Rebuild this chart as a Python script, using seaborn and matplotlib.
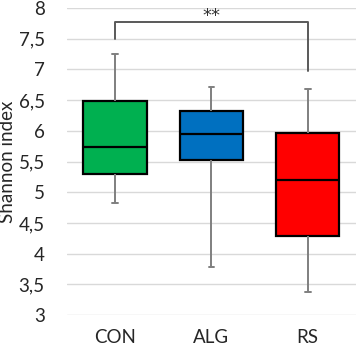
import numpy as np
import pandas as pd
import matplotlib
matplotlib.use('Agg')
import matplotlib.pyplot as plt
import seaborn as sns

# Group summary: whisker low, Q1, median, Q3, whisker high
groups = ['CON', 'ALG', 'RS']
whisker_low = [4.82, 3.79, 3.38]
q1 = [5.30, 5.53, 4.29]
median = [5.73, 5.95, 5.20]
q3 = [6.48, 6.33, 5.96]
whisker_high = [7.25, 6.71, 6.68]
colors = ['#00B050', '#0070C0', '#FF0000']

# significance bracket between CON and RS
sig_text = '**'
sig_left_y = 7.49
sig_right_y = 6.98
sig_top_y = 7.77

# five points per group reproduce the stats exactly (n=5 -> quartiles at points)
rows = []
for i, g in enumerate(groups):
    for v in [whisker_low[i], q1[i], median[i], q3[i], whisker_high[i]]:
        rows.append({'group': g, 'value': v})
df = pd.DataFrame(rows)

sns.set_style('white')
plt.rcParams['font.family'] = ['Lato', 'DejaVu Sans']

fig = plt.figure(figsize=(3.58, 3.49), dpi=100)
ax = fig.add_axes([0.187, 0.0974, 0.807, 0.8796])

sns.boxplot(data=df, x='group', y='value', hue='group', palette=colors,
            order=groups, whis=np.inf, width=0.66, legend=False, ax=ax,
            saturation=1,
            boxprops=dict(edgecolor='black', linewidth=1.6),
            medianprops=dict(color='black', linewidth=1.6),
            whiskerprops=dict(color='#7f7f7f', linewidth=1.4),
            capprops=dict(color='#7f7f7f', linewidth=1.4),
            capwidths=0.06, zorder=3)

ax.set_ylim(3, 8)
ax.set_xlim(-0.5, 2.5)
ax.set_yticks(np.arange(3, 8.01, 0.5))
ax.set_yticklabels([('%g' % t).replace('.', ',') for t in np.arange(3, 8.01, 0.5)])
ax.yaxis.grid(True, color='#d9d9d9', linewidth=1.0, zorder=0)
ax.set_axisbelow(True)
for s in ax.spines.values():
    s.set_visible(False)
ax.tick_params(axis='y', length=0, pad=16, labelsize=13.5)
ax.tick_params(axis='x', length=0, pad=10, labelsize=13.5)
ax.set_xlabel('')
ax.set_ylabel('Shannon index', fontsize=13.5, labelpad=2)

# bracket
ax.plot([0, 0, 2, 2], [sig_left_y, sig_top_y, sig_top_y, sig_right_y],
        color='#595959', linewidth=1.4, clip_on=False, zorder=4)
ax.text(1, sig_top_y + 0.1, sig_text, ha='center', va='center', fontsize=13,
        family='DejaVu Sans', color='#333333')

fig.savefig('out.png', dpi=100)
